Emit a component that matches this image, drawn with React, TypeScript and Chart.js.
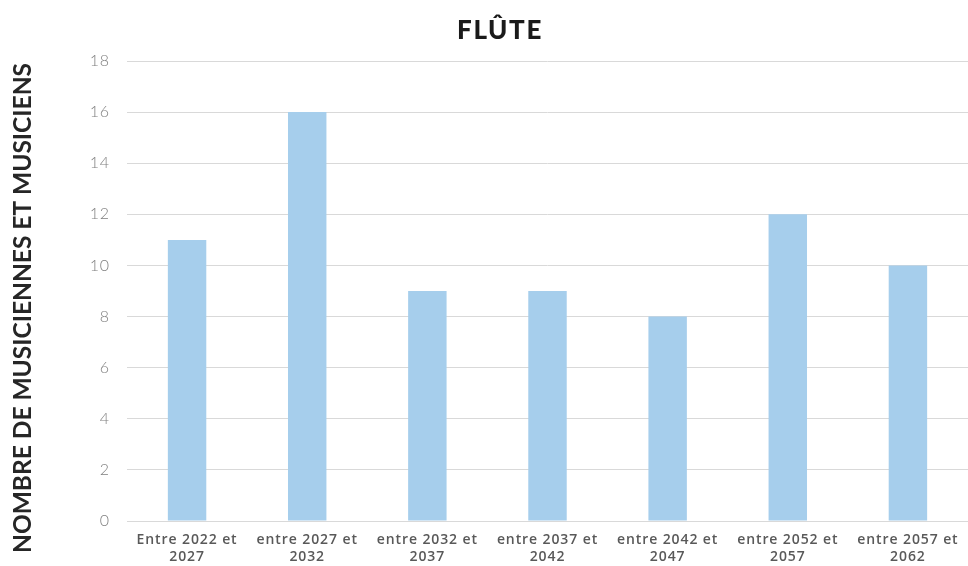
import React, { useEffect, useRef } from "react";
import { Chart, registerables } from "chart.js";

Chart.register(...registerables);

const categories: string[][] = [
  ["Entre 2022 et", "2027"],
  ["entre 2027 et", "2032"],
  ["entre 2032 et", "2037"],
  ["entre 2037 et", "2042"],
  ["entre 2042 et", "2047"],
  ["entre 2052 et", "2057"],
  ["entre 2057 et", "2062"],
];
const values: number[] = [11, 16, 9, 9, 8, 12, 10];
const titleText = "FLÛTE";
const yTitle = "NOMBRE DE MUSICIENNES ET MUSICIENS";

const titlesPlugin = {
  id: "customTitles",
  beforeDraw(chart: any) {
    (chart.ctx as any).letterSpacing = "0.9px";
  },
  afterDraw(chart: any) {
    const ctx = chart.ctx as CanvasRenderingContext2D;
    (ctx as any).letterSpacing = "0px";
    ctx.save();
    ctx.fillStyle = "#1a1a1a";
    ctx.textAlign = "center";
    ctx.textBaseline = "alphabetic";
    (ctx as any).letterSpacing = "1.6px";
    ctx.font = "900 26px Lato";
    ctx.fillText(titleText, 500, 39);
    ctx.restore();

    ctx.save();
    ctx.fillStyle = "#262626";
    ctx.textAlign = "center";
    ctx.textBaseline = "alphabetic";
    ctx.font = "bold 24.5px Lato";
    ctx.translate(31, 308);
    ctx.rotate(-Math.PI / 2);
    ctx.fillText(yTitle, 0, 0);
    ctx.restore();
  },
};

export default function App() {
  const ref = useRef<HTMLCanvasElement | null>(null);
  useEffect(() => {
    if (!ref.current) return;
    const chart = new Chart(ref.current, {
      type: "bar",
      data: {
        labels: categories,
        datasets: [
          {
            data: values,
            backgroundColor: "#A6CEEC",
            barPercentage: 0.32,
            categoryPercentage: 1,
          },
        ],
      },
      plugins: [titlesPlugin],
      options: {
        animation: false,
        responsive: false,
        maintainAspectRatio: false,
        layout: { padding: { top: 61, left: 0, right: 0, bottom: 0 } },
        plugins: {
          legend: { display: false },
          tooltip: { enabled: false },
          title: { display: false },
        },
        scales: {
          x: {
            grid: { display: false, drawTicks: false },
            border: { display: true, color: "#d9d9d9", width: 1 },
            ticks: {
              color: "#595959",
              font: { family: "Open Sans", size: 14, weight: "600", lineHeight: 1.25 },
              padding: 10,
              maxRotation: 0,
              autoSkip: false,
            },
            afterFit: (s: any) => {
              s.height = 45;
            },
          },
          y: {
            min: 0,
            max: 18,
            ticks: {
              stepSize: 2,
              color: "#7f7f7f",
              font: { family: "Lato", size: 16, weight: "300" },
              padding: 17,
            },
            grid: { color: "#d9d9d9", lineWidth: 1, drawTicks: false },
            border: { display: false },
            title: { display: false },
            afterFit: (s: any) => {
              s.width = 127;
            },
          },
        },
      },
    });
    return () => chart.destroy();
  }, []);
  return (
    <div style={{ position: "absolute", left: 0, top: 0, width: 968, height: 566, background: "#fff" }}>
      <canvas ref={ref} width={968} height={566} style={{ width: 968, height: 566 }} />
    </div>
  );
}
